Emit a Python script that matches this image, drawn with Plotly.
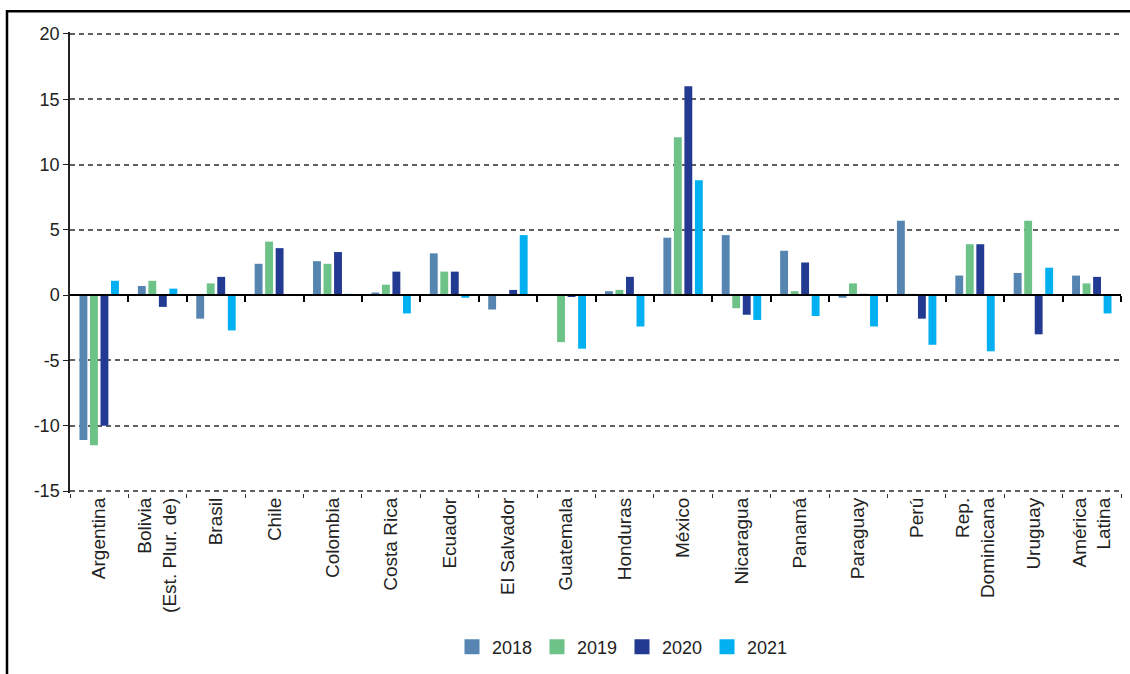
import plotly.graph_objects as go

# countries (x categories) and yearly values
countries = ["Argentina", "Bolivia<br>(Est. Plur. de)", "Brasil", "Chile", "Colombia",
             "Costa Rica", "Ecuador", "El Salvador", "Guatemala", "Honduras", "México",
             "Nicaragua", "Panamá", "Paraguay", "Perú", "Rep.<br>Dominicana", "Uruguay",
             "América<br>Latina"]

v2018 = [-11.1, 0.7, -1.8, 2.4, 2.6, 0.2, 3.2, -1.1, 0.0, 0.3, 4.4, 4.6, 3.4, -0.2, 5.7, 1.5, 1.7, 1.5]
v2019 = [-11.5, 1.1, 0.9, 4.1, 2.4, 0.8, 1.8, 0.0, -3.6, 0.4, 12.1, -1.0, 0.3, 0.9, 0.1, 3.9, 5.7, 0.9]
v2020 = [-10.0, -0.9, 1.4, 3.6, 3.3, 1.8, 1.8, 0.4, -0.1, 1.4, 16.0, -1.5, 2.5, 0.1, -1.8, 3.9, -3.0, 1.4]
v2021 = [1.1, 0.5, -2.7, 0.0, 0.1, -1.4, -0.2, 4.6, -4.1, -2.4, 8.8, -1.9, -1.6, -2.4, -3.8, -4.3, 2.1, -1.4]

years = ["2018", "2019", "2020", "2021"]
series = [v2018, v2019, v2020, v2021]
colors = ["#5585B0", "#6CC287", "#233A92", "#00B0F0"]

y_ticks = [-15, -10, -5, 0, 5, 10, 15, 20]
y_ticktext = ["-15", "-10", "-5", "0", "5", "10", "15", "20"]

fig = go.Figure()
for yr, vals, col in zip(years, series, colors):
    fig.add_trace(go.Bar(x=countries, y=vals, name=yr, marker_color=col,
                         marker_line_width=0, showlegend=False))

# legend entries with square swatches
for yr, col in zip(years, colors):
    fig.add_trace(go.Scatter(x=[None], y=[None], name=yr, mode="markers",
                             marker=dict(symbol="square", size=15, color=col)))

W, H = 1130, 674
L, R, T, B = 70, 9, 32, 178
pw, ph = W - L - R, H - T - B
ylo, yhi = -15.15, 20.15   # a little padding so the 20 / -15 grid lines are drawn

fig.update_layout(
    width=W, height=H,
    margin=dict(l=L, r=R, t=T, b=B),
    paper_bgcolor="white", plot_bgcolor="white",
    font=dict(family="Liberation Sans, Arial, sans-serif", size=17, color="#222222"),
    barmode="group", bargap=0.28, bargroupgap=0.25,
    showlegend=True,
    legend=dict(orientation="h", x=(452 - L) / pw, xanchor="left",
                y=(T + ph - 651) / ph, yanchor="middle",
                font=dict(size=18), itemwidth=30,
                entrywidth=40, entrywidthmode="pixels",
                tracegroupgap=0, itemclick=False),
    xaxis=dict(type="category", categoryorder="array", categoryarray=countries,
               tickangle=-90, ticks="outside", tickson="boundaries", ticklen=4,
               tickcolor="#333333", showline=False, showgrid=False, automargin=False,
               tickfont=dict(size=19), range=[-0.5, len(countries) - 0.5]),
    xaxis2=dict(overlaying="x", anchor="free", position=-ylo / (yhi - ylo), automargin=False,
                range=[-0.5, len(countries) - 0.5],
                tickvals=[i + 0.5 for i in range(len(countries))],
                showticklabels=False, ticks="outside", ticklen=6, tickwidth=1.5,
                tickcolor="black", showline=True, linecolor="black", linewidth=2,
                showgrid=False, zeroline=False),
    yaxis=dict(range=[ylo, yhi], tickvals=y_ticks, ticktext=y_ticktext,
               showline=True, linecolor="#222222",
               linewidth=1.5, ticks="outside", ticklen=5, tickcolor="#222222",
               automargin=False, tickfont=dict(size=18),
               showgrid=True, gridcolor="#606060", gridwidth=2, griddash="5px,4px",
               zeroline=False),
    shapes=[dict(type="rect", xref="paper", yref="paper",
                 x0=(7 - L) / pw, x1=(1140 - L) / pw,
                 y0=(T + ph - 690) / ph, y1=1 + (T - 11) / ph,
                 line=dict(color="black", width=2.5), layer="below")],
)

# invisible trace on the overlay axis so it is drawn
fig.add_trace(go.Scatter(x=[0], y=[0], xaxis="x2", mode="markers",
                         marker=dict(opacity=0), showlegend=False, hoverinfo="skip"))

# drop the default page margin so the figure sits at the window origin
fig.write_html("out.html", config={"displayModeBar": False},
               post_script="document.body.style.margin='0';document.body.style.overflow='hidden';")
